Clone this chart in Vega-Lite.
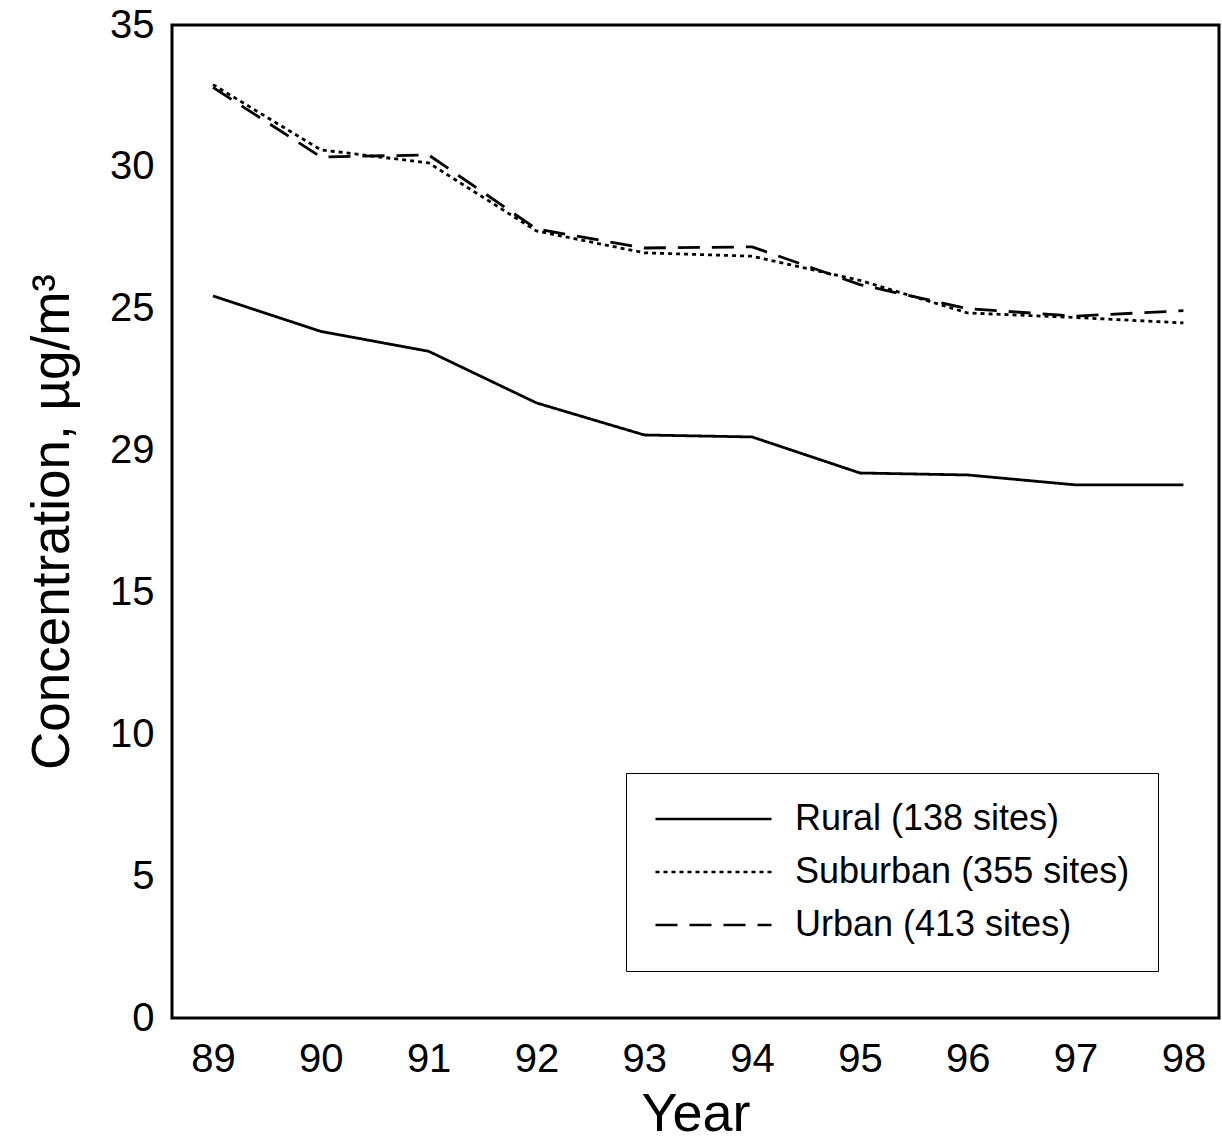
{
  "$schema": "https://vega.github.io/schema/vega-lite/v6.json",
  "autosize": {"type": "none"},
  "padding": {"left": 172, "top": 25, "right": 3, "bottom": 123},
  "width": 1047,
  "height": 993,
  "background": "white",
  "config": {
    "font": "Liberation Sans",
    "view": {"stroke": "black", "strokeWidth": 3},
    "axis": {"grid": false, "ticks": false, "domain": false, "labelColor": "black", "titleColor": "black", "labelFont": "Liberation Sans", "titleFont": "Liberation Sans", "titleFontWeight": "normal"},
    "legend": {"labelFont": "Liberation Sans"}
  },
  "data": {
    "values": [
      {"year": 89, "type": "Rural (138 sites)", "value": 25.45},
      {"year": 90, "type": "Rural (138 sites)", "value": 24.2},
      {"year": 91, "type": "Rural (138 sites)", "value": 23.5},
      {"year": 92, "type": "Rural (138 sites)", "value": 21.68},
      {"year": 93, "type": "Rural (138 sites)", "value": 20.55},
      {"year": 94, "type": "Rural (138 sites)", "value": 20.48},
      {"year": 95, "type": "Rural (138 sites)", "value": 19.21},
      {"year": 96, "type": "Rural (138 sites)", "value": 19.14},
      {"year": 97, "type": "Rural (138 sites)", "value": 18.79},
      {"year": 98, "type": "Rural (138 sites)", "value": 18.79},
      {"year": 89, "type": "Suburban (355 sites)", "value": 32.9},
      {"year": 90, "type": "Suburban (355 sites)", "value": 30.6},
      {"year": 91, "type": "Suburban (355 sites)", "value": 30.14},
      {"year": 92, "type": "Suburban (355 sites)", "value": 27.74},
      {"year": 93, "type": "Suburban (355 sites)", "value": 26.97},
      {"year": 94, "type": "Suburban (355 sites)", "value": 26.85},
      {"year": 95, "type": "Suburban (355 sites)", "value": 26.0},
      {"year": 96, "type": "Suburban (355 sites)", "value": 24.85},
      {"year": 97, "type": "Suburban (355 sites)", "value": 24.69},
      {"year": 98, "type": "Suburban (355 sites)", "value": 24.5},
      {"year": 89, "type": "Urban (413 sites)", "value": 32.8},
      {"year": 90, "type": "Urban (413 sites)", "value": 30.35},
      {"year": 91, "type": "Urban (413 sites)", "value": 30.42},
      {"year": 92, "type": "Urban (413 sites)", "value": 27.81},
      {"year": 93, "type": "Urban (413 sites)", "value": 27.14},
      {"year": 94, "type": "Urban (413 sites)", "value": 27.18},
      {"year": 95, "type": "Urban (413 sites)", "value": 25.85},
      {"year": 96, "type": "Urban (413 sites)", "value": 25.0},
      {"year": 97, "type": "Urban (413 sites)", "value": 24.74},
      {"year": 98, "type": "Urban (413 sites)", "value": 24.93}
    ]
  },
  "mark": {"type": "line", "color": "black", "strokeWidth": 2.8},
  "encoding": {
    "x": {
      "field": "year", "type": "quantitative",
      "scale": {"domain": [88.62, 98.33], "nice": false, "zero": false},
      "axis": {"values": [89, 90, 91, 92, 93, 94, 95, 96, 97, 98], "format": "d", "labelFontSize": 40, "labelPadding": 21, "title": "Year", "titleFontSize": 54, "titlePadding": 8}
    },
    "y": {
      "field": "value", "type": "quantitative",
      "scale": {"domain": [0, 35], "nice": false},
      "axis": {"values": [0, 5, 10, 15, 20, 25, 30, 35], "labelExpr": "datum.value == 20 ? '29' : datum.label", "labelFontSize": 40, "labelPadding": 18, "title": "Concentration, µg/m³", "titleFontSize": 53, "titlePadding": 30}
    },
    "strokeDash": {
      "field": "type", "type": "nominal",
      "scale": {"domain": ["Rural (138 sites)", "Suburban (355 sites)", "Urban (413 sites)"], "range": [[1, 0], [4, 4], [22, 12]]},
      "legend": {
        "title": null, "orient": "none", "legendX": 454, "legendY": 748,
        "symbolType": "stroke", "symbolSize": 13456, "symbolStrokeWidth": 2.5, "symbolStrokeColor": "black",
        "labelFontSize": 36, "labelOffset": 22, "labelColor": "black", "labelLimit": 600,
        "clipHeight": 36, "rowPadding": 17,
        "padding": 28, "strokeColor": "black", "fillColor": "white", "cornerRadius": 0
      }
    }
  }
}
